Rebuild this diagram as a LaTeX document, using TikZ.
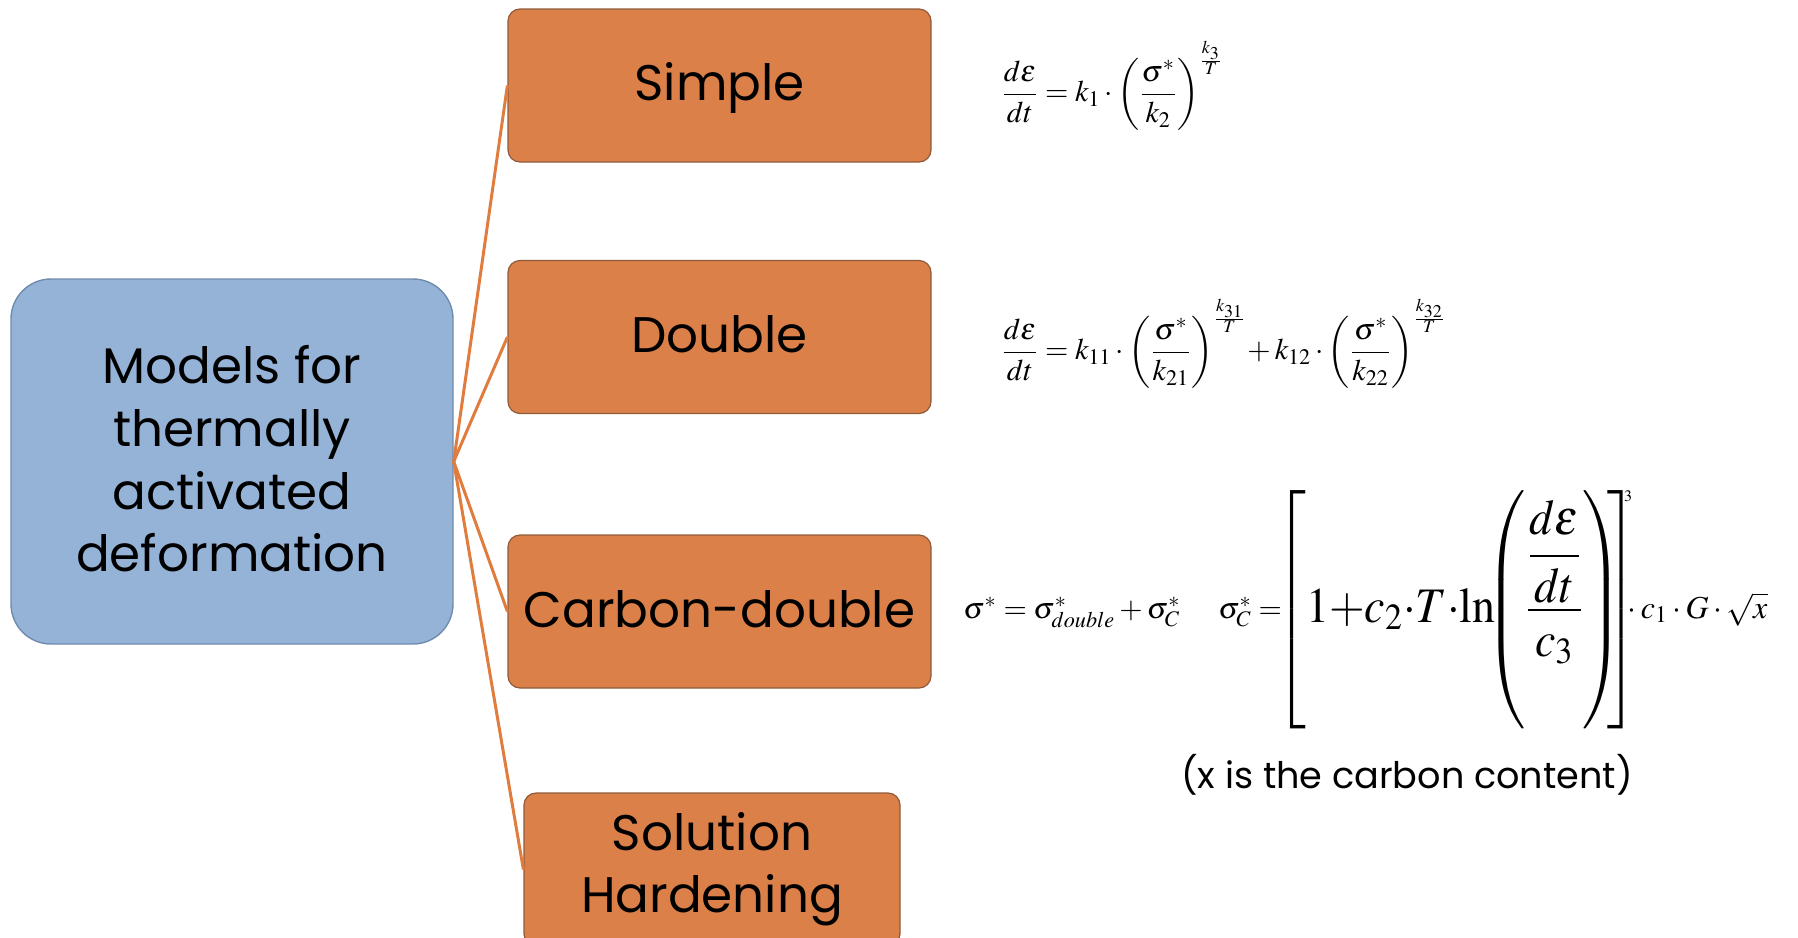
\documentclass[tikz,border=0pt]{standalone}
\usepackage{amsmath}
\usepackage{mathptmx}
\usepackage[no-math]{fontspec}
\setmainfont{Poppins}
\definecolor{boxorange}{HTML}{DB8049}
\definecolor{orangeedge}{HTML}{8F5A3A}
\definecolor{boxblue}{HTML}{95B3D7}
\definecolor{blueedge}{HTML}{6F8CAE}
\definecolor{linkorange}{HTML}{E07C3E}
\tikzset{
  rootbox/.style={draw=blueedge, line width=0.7pt, fill=boxblue, rounded corners=20pt,
    minimum width=221pt, minimum height=182.5pt, align=center, inner sep=0pt,
    font=\fontsize{25}{31.4}\selectfont},
  modelbox/.style={draw=orangeedge, line width=0.6pt, fill=boxorange, rounded corners=6pt,
    minimum width=211.5pt, minimum height=76.5pt, align=center, inner sep=0pt,
    font=\fontsize{25}{31}\selectfont},
  link/.style={draw=linkorange, line width=1.5pt},
  eq/.style={anchor=west, inner sep=0pt, font=\fontsize{15}{18}\selectfont},
  eqb/.style={anchor=base west, inner sep=0pt, font=\fontsize{15}{18}\selectfont},
  note/.style={inner sep=0pt, font=\fontsize{18.3}{22}\selectfont}
}
\begin{document}
\begin{tikzpicture}[x=0.5pt,y=-0.5pt]
\useasboundingbox (0,0) rectangle (1798,937);
\node[rootbox] (root) at (232,461.5) {Models for\\thermally\\activated\\deformation\rule[-2.9pt]{0pt}{0pt}};
\node[modelbox] (simple) at (719.5,85.5) {\raisebox{0pt}[\dimexpr\height+2.3pt\relax][\depth]{Simple}};
\node[modelbox] (double) at (719.5,337) {Double\rule[-3.4pt]{0pt}{0pt}};
\node[modelbox] (carbon) at (719.5,611.5) {Carbon-double\rule[-2.3pt]{0pt}{0pt}};
\node[modelbox, minimum width=188pt] (solution) at (712,869.5) {Solution\\Hardening};
\draw[link] (root.east) -- (simple.west);
\draw[link] (root.east) -- (double.west);
\draw[link] (root.east) -- (carbon.west);
\draw[link] (root.east) -- (solution.west);
\node[eq] (eqs) at (1001,86) {$\dfrac{d\varepsilon}{dt}=k_1\cdot\left(\dfrac{\sigma^*}{k_2}\right)^{\frac{k_3}{T}}$};
\node[eq] (eqd) at (1001,344) {$\dfrac{d\varepsilon}{dt}=k_{11}\cdot\left(\dfrac{\sigma^*}{k_{21}}\right)^{\frac{k_{31}}{T}}\!+k_{12}\cdot\left(\dfrac{\sigma^*}{k_{22}}\right)^{\frac{k_{32}}{T}}$};
\node[eqb] (eqc1) at (963,618) {$\sigma^*=\sigma^*_{double}+\sigma^*_C$};
\node[eqb] (eqc2a) at (1218,618) {$\sigma^*_C=$};
\node[eqb, font=\fontsize{27}{32}\selectfont, xshift=-3.5pt] (eqc2b) at (eqc2a.base east |- 0,622) {\scalebox{0.85}[0.92]{$\left[\rule[-44pt]{0pt}{56pt}1{+}c_2{\cdot}T{\cdot}\mathrm{ln}\mkern-6mu\left(\rule[-36pt]{0pt}{48pt}\dfrac{\dfrac{d\varepsilon}{dt}}{c_3}\right)\mkern-6mu\right]$}};
\node[anchor=north west, inner sep=0pt, font=\fontsize{8}{9}\selectfont, xshift=-7.5pt] (eqc2c) at (eqc2b.north east) {$3$};
\node[eqb, xshift=-8pt, font=\fontsize{16}{19}\selectfont] (eqc2d) at (eqc2b.east |- eqc2a.base) {${}\cdot c_1\cdot G\cdot\sqrt{x}$};
\node[note] (remark) at (1407,775) {(x is the carbon content)};
\end{tikzpicture}
\end{document}
